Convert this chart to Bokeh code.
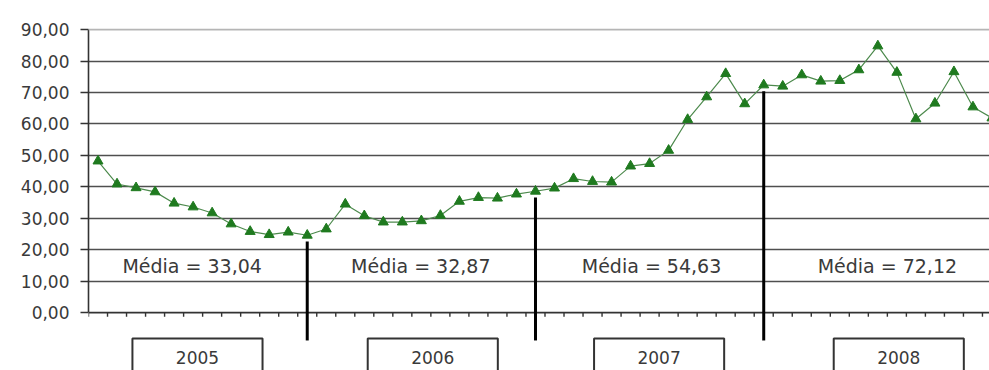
from bokeh.plotting import figure
from bokeh.models import Range1d, FixedTicker, Span
from bokeh.embed import file_html
from bokeh.resources import INLINE
from bokeh.core.properties import value

# ---- data ----
years = ["2005", "2006", "2007", "2008"]
v2005 = [48.2, 40.9, 39.7, 38.4, 34.8, 33.6, 31.7, 28.2, 25.8, 24.8, 25.6, 24.6]
v2006 = [26.6, 34.5, 30.8, 28.8, 28.8, 29.2, 30.9, 35.4, 36.6, 36.4, 37.7, 38.6]
v2007 = [39.6, 42.6, 41.7, 41.5, 46.6, 47.4, 51.6, 61.4, 68.6, 76.0, 66.4, 72.4]
v2008 = [72.0, 75.6, 73.6, 73.8, 77.2, 84.8, 76.4, 61.6, 66.6, 76.6, 65.4, 61.9]
means = [33.04, 32.87, 54.63, 72.12]
y_ticks = [0, 10, 20, 30, 40, 50, 60, 70, 80, 90]

values = v2005 + v2006 + v2007 + v2008
x = [i + 0.5 for i in range(len(values))]
sep_idx = [11, 23, 35]  # last month of each year with divider line

# ---- layout constants ----
mean_label_x = [5.45, 17.47, 29.6, 42.0]
box_x = [5.73, 18.1, 30.0, 42.6]
box_half = 3.42

FONT = "DejaVu Sans"
TXT = "#3a3a3a"

p = figure(width=989, height=370, output_backend="svg", toolbar_location=None,
           x_range=Range1d(0, 47.37), y_range=Range1d(-18.4, 92.9),
           x_axis_location=None,
           min_border_left=88, min_border_right=0, min_border_top=20, min_border_bottom=0)
p.outline_line_color = None
p.background_fill_color = "white"
p.border_fill_color = "white"
p.xgrid.visible = False
p.ygrid.ticker = FixedTicker(ticks=[t for t in y_ticks if 0 < t < 90])
p.ygrid.grid_line_color = "#4f4f4f"
p.ygrid.grid_line_width = 1.6
p.add_layout(Span(location=90, dimension="width", line_color="#b5b5b5", line_width=1.6))

# y axis
ya = p.yaxis[0]
ya.ticker = FixedTicker(ticks=y_ticks)
ya.bounds = (0, 90)
ya.major_label_overrides = {t: f"{t:.2f}".replace(".", ",") for t in y_ticks}
ya.axis_line_color = "#333333"
ya.axis_line_width = 1.6
ya.major_tick_line_color = "#333333"
ya.major_tick_line_width = 1.4
ya.major_tick_out = 8
ya.major_tick_in = 0
ya.minor_tick_line_color = None
ya.major_label_standoff = 11
ya.major_label_text_font = FONT
ya.major_label_text_font_size = "17px"
ya.major_label_text_color = TXT

# manual x axis at y=0 with month ticks
n = len(values)
p.segment(x0=[0], y0=[0], x1=[n], y1=[0], line_color="#333333", line_width=1.6)
bounds_x = list(range(n + 1))
p.segment(x0=bounds_x, y0=[0] * len(bounds_x), x1=bounds_x, y1=[-1.3] * len(bounds_x),
          line_color="#333333", line_width=1.4)

# year divider lines
p.segment(x0=[x[i] for i in sep_idx], y0=[-8.85] * len(sep_idx),
          x1=[x[i] for i in sep_idx], y1=[values[i] - 2 for i in sep_idx],
          line_color="black", line_width=3)

# series
p.line(x, values, line_color="#4d8a4d", line_width=1.2)
p.scatter(x, values, marker="triangle", size=10, fill_color="#1f7a1f", line_color="#1f7a1f")

# mean labels
p.text(x=mean_label_x, y=[14.7] * 4,
       text=[f"Média = {m:.2f}".replace(".", ",") for m in means],
       text_align="center", text_baseline="middle",
       text_font=value(FONT), text_font_size="19px", text_color=TXT)

# year boxes
p.quad(left=[c - box_half for c in box_x], right=[c + box_half for c in box_x],
       top=[-8.2] * 4, bottom=[-30] * 4,
       fill_color="white", line_color="#333333", line_width=2)
p.text(x=box_x, y=[-14.25] * 4, text=years,
       text_align="center", text_baseline="middle",
       text_font=value(FONT), text_font_size="17px", text_color=TXT)

open("out.html", "w").write(file_html(p, INLINE))
